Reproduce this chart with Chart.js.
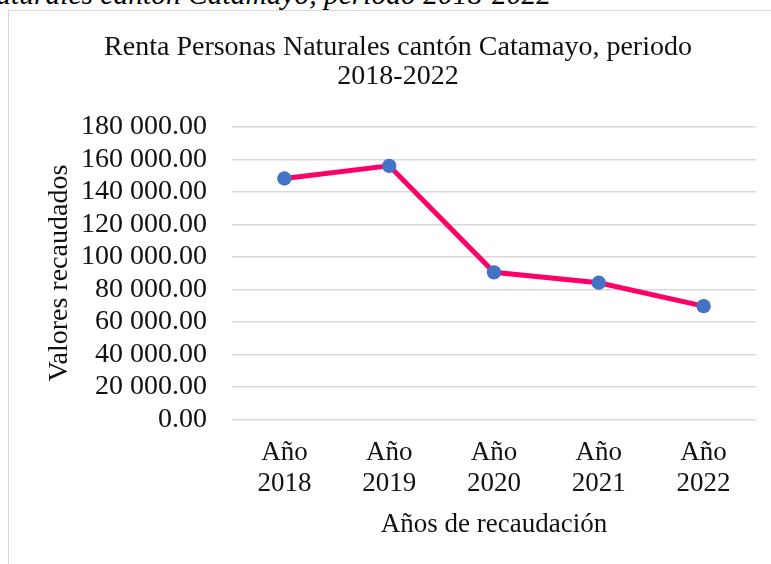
<!DOCTYPE html>
<html>
<head>
<meta charset="utf-8">
<script src="https://cdnjs.cloudflare.com/ajax/libs/Chart.js/4.4.0/chart.umd.min.js"></script>
<style>
  html,body{margin:0;padding:0;background:#fff;overflow:hidden;width:771px;height:564px}
  .caption{position:absolute;left:-250px;width:801px;top:-20px;text-align:right;
    font:italic 29.5px/29.5px "Liberation Serif",serif;color:#000;white-space:nowrap}
  .frame{position:absolute;left:8px;top:10px;width:800px;height:600px;border:1.5px solid #d9d9d9;box-sizing:border-box}
  .wrap{position:absolute;left:0;top:0;width:792px;height:564px}
</style>
</head>
<body>
<div class="caption">Renta Personas Naturales cantón Catamayo, periodo 2018-2022</div>
<div class="frame"></div>
<div class="wrap"><canvas id="c"></canvas></div>
<script>
// values
const years  = [['Año','2018'],['Año','2019'],['Año','2020'],['Año','2021'],['Año','2022']];
const renta  = [148300, 156100, 90500, 84100, 69700];
const yTicks = [0, 20000, 40000, 60000, 80000, 100000, 120000, 140000, 160000, 180000];

const SERIF = '"Liberation Serif", "Times New Roman", serif';
const INK = '#111';

function fmt(v){
  const s = Math.round(v).toString().replace(/\B(?=(\d{3})+(?!\d))/g,' ');
  return s+'.00';
}

new Chart(document.getElementById('c'),{
  type:'line',
  data:{
    labels:years,
    datasets:[{
      data:renta,
      borderColor:'#ff0066', borderWidth:5,
      pointBackgroundColor:'#4472c4', pointBorderColor:'#4472c4',
      pointRadius:7.2, pointBorderWidth:0, tension:0
    }]
  },
  options:{
    responsive:true, maintainAspectRatio:false, animation:false,
    layout:{ padding:{ top:33, left:40, right:36, bottom:0 } },
    plugins:{
      legend:{ display:false },
      tooltip:{ enabled:false },
      title:{
        display:true,
        text:['Renta Personas Naturales cantón Catamayo, periodo','2018-2022'],
        color:INK, font:{ family:SERIF, size:28, weight:'normal', lineHeight:1.04 },
        padding:{ top:0, bottom:35.8 }
      }
    },
    scales:{
      x:{
        offset:true,
        grid:{ display:false, drawTicks:false },
        border:{ display:false },
        ticks:{ color:INK, font:{ family:SERIF, size:27, lineHeight:1.16 }, padding:18, maxRotation:0 },
        title:{ display:true, text:'Años de recaudación', color:INK,
                font:{ family:SERIF, size:27, lineHeight:1.16 }, padding:{ top:9, bottom:23 } },
        afterFit:s=>{ s.height = 144.7; }
      },
      y:{
        min:0, max:180000,
        afterBuildTicks:s=>{ s.ticks = yTicks.map(v=>({value:v})); },
        grid:{ color:'#d9d9d9', lineWidth:1.5, drawTicks:false },
        border:{ display:false },
        ticks:{ color:INK, font:{ family:SERIF, size:28 }, padding:25, autoSkip:false, callback:v=>fmt(v) },
        title:{ display:true, text:'Valores recaudados', color:INK,
                font:{ family:SERIF, size:28, lineHeight:1.16 }, padding:{ top:3, bottom:0 } },
        afterFit:s=>{ s.width = 192; }
      }
    }
  }
});
</script>
</body>
</html>
